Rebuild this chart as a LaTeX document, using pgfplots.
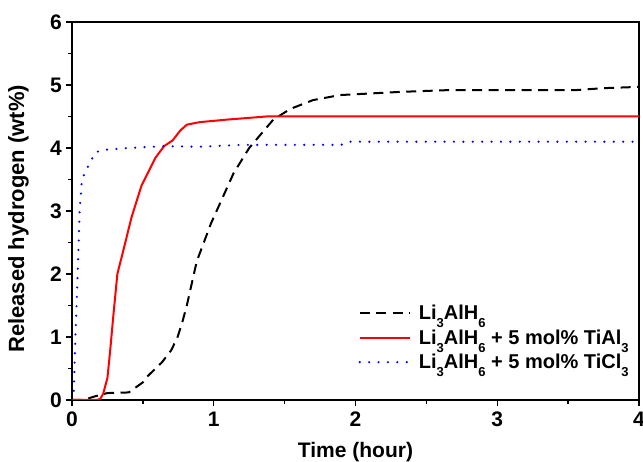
\documentclass[border=0pt]{standalone}
\usepackage{fontspec}
\setmainfont{Liberation Sans}
\usepackage{pgfplots}
\pgfplotsset{compat=1.18}
\newcommand{\sub}[1]{\raisebox{-8pt}{\fontsize{13}{13}\selectfont #1}}
\begin{document}
\begin{tikzpicture}
\begin{axis}[
  scale only axis, width=567pt, height=378pt,
  at={(0,0)}, anchor=south west,
  xmin=0, xmax=4, ymin=0, ymax=6,
  xtick={0,1,2,3,4}, ytick={0,1,2,3,4,5,6},
  minor x tick num=1, minor y tick num=1,
  xtick pos=bottom, ytick pos=left,
  tick align=outside,
  major tick length=6pt, minor tick length=4pt,
  axis line style={line width=1.8pt},
  every tick/.style={line width=1.5pt, black},
  /pgf/number format/assume math mode=true,
  tick label style={font=\fontsize{21}{24}\selectfont\bfseries},
  xticklabel style={inner sep=0pt, anchor=north, yshift=-6pt},
  yticklabel style={inner sep=0pt, anchor=east, xshift=-4pt},
  xlabel={Time (hour)},
  ylabel={Released hydrogen (wt\%)},
  label style={inner sep=0pt},
  xlabel style={font=\fontsize{21}{24}\selectfont\bfseries, at={(axis description cs:0.5,-0.112)}, anchor=north},
  ylabel style={font=\fontsize{22}{24}\selectfont\bfseries, at={(axis description cs:-0.076,0.479)}, anchor=south},
  legend style={draw=none, fill=none, font=\fontsize{20}{24}\selectfont\bfseries,
    at={(0.505,0.254)}, anchor=north west, inner sep=0pt, row sep=6.5pt,
    nodes={inner sep=1pt}},
  legend cell align=left,
  legend image code/.code={\draw[#1] (0pt,0pt) -- (50pt,0pt); \path (57pt,0pt);},
]
\addplot[black, line width=2pt, dash pattern=on 10pt off 6.5pt] coordinates {
(0,0) (0.08,0) (0.165,0.06) (0.25,0.11) (0.4,0.12) (0.5,0.28) (0.53,0.37)
(0.635,0.6) (0.70,0.79) (0.745,1.0) (0.78,1.25) (0.81,1.5) (0.85,1.9) (0.88,2.2) (0.98,2.8) (1.06,3.2)
(1.14,3.6) (1.25,4.0) (1.42,4.45) (1.54,4.62) (1.7,4.76) (1.89,4.84)
(2.31,4.89) (2.67,4.92) (3.0,4.92) (3.56,4.92) (3.75,4.95) (4.0,4.97)};
\addlegendentry{Li\sub{3}AlH\sub{6}}
\addplot[red, line width=2pt] coordinates {
(0,0) (0.176,0) (0.2,0.02) (0.22,0.1) (0.25,0.35) (0.27,0.8) (0.29,1.3) (0.32,2.0)
(0.365,2.4) (0.42,2.9) (0.49,3.4) (0.59,3.85) (0.65,4.03) (0.71,4.12)
(0.765,4.28) (0.81,4.37) (0.9,4.41) (1.09,4.45) (1.37,4.5) (4,4.5)};
\addlegendentry{Li\sub{3}AlH\sub{6} + 5 mol\% TiAl\sub{3}}
\addplot[blue, line width=2.4pt, line cap=round, dash pattern=on 0pt off 9.4pt] coordinates {
(0,0) (0.012,0.1) (0.024,1.0) (0.04,2.0) (0.054,3.0) (0.07,3.5) (0.118,3.73)
(0.165,3.93) (0.22,3.97) (0.4,4.0) (0.65,4.03) (0.9,4.02) (1.2,4.05)
(1.9,4.05) (1.95,4.1) (4,4.1)};
\addlegendentry{Li\sub{3}AlH\sub{6} + 5 mol\% TiCl\sub{3}}
\end{axis}
\pgfresetboundingbox
\path (-72pt,-62pt) rectangle (571pt,400pt);
\end{tikzpicture}
\end{document}
